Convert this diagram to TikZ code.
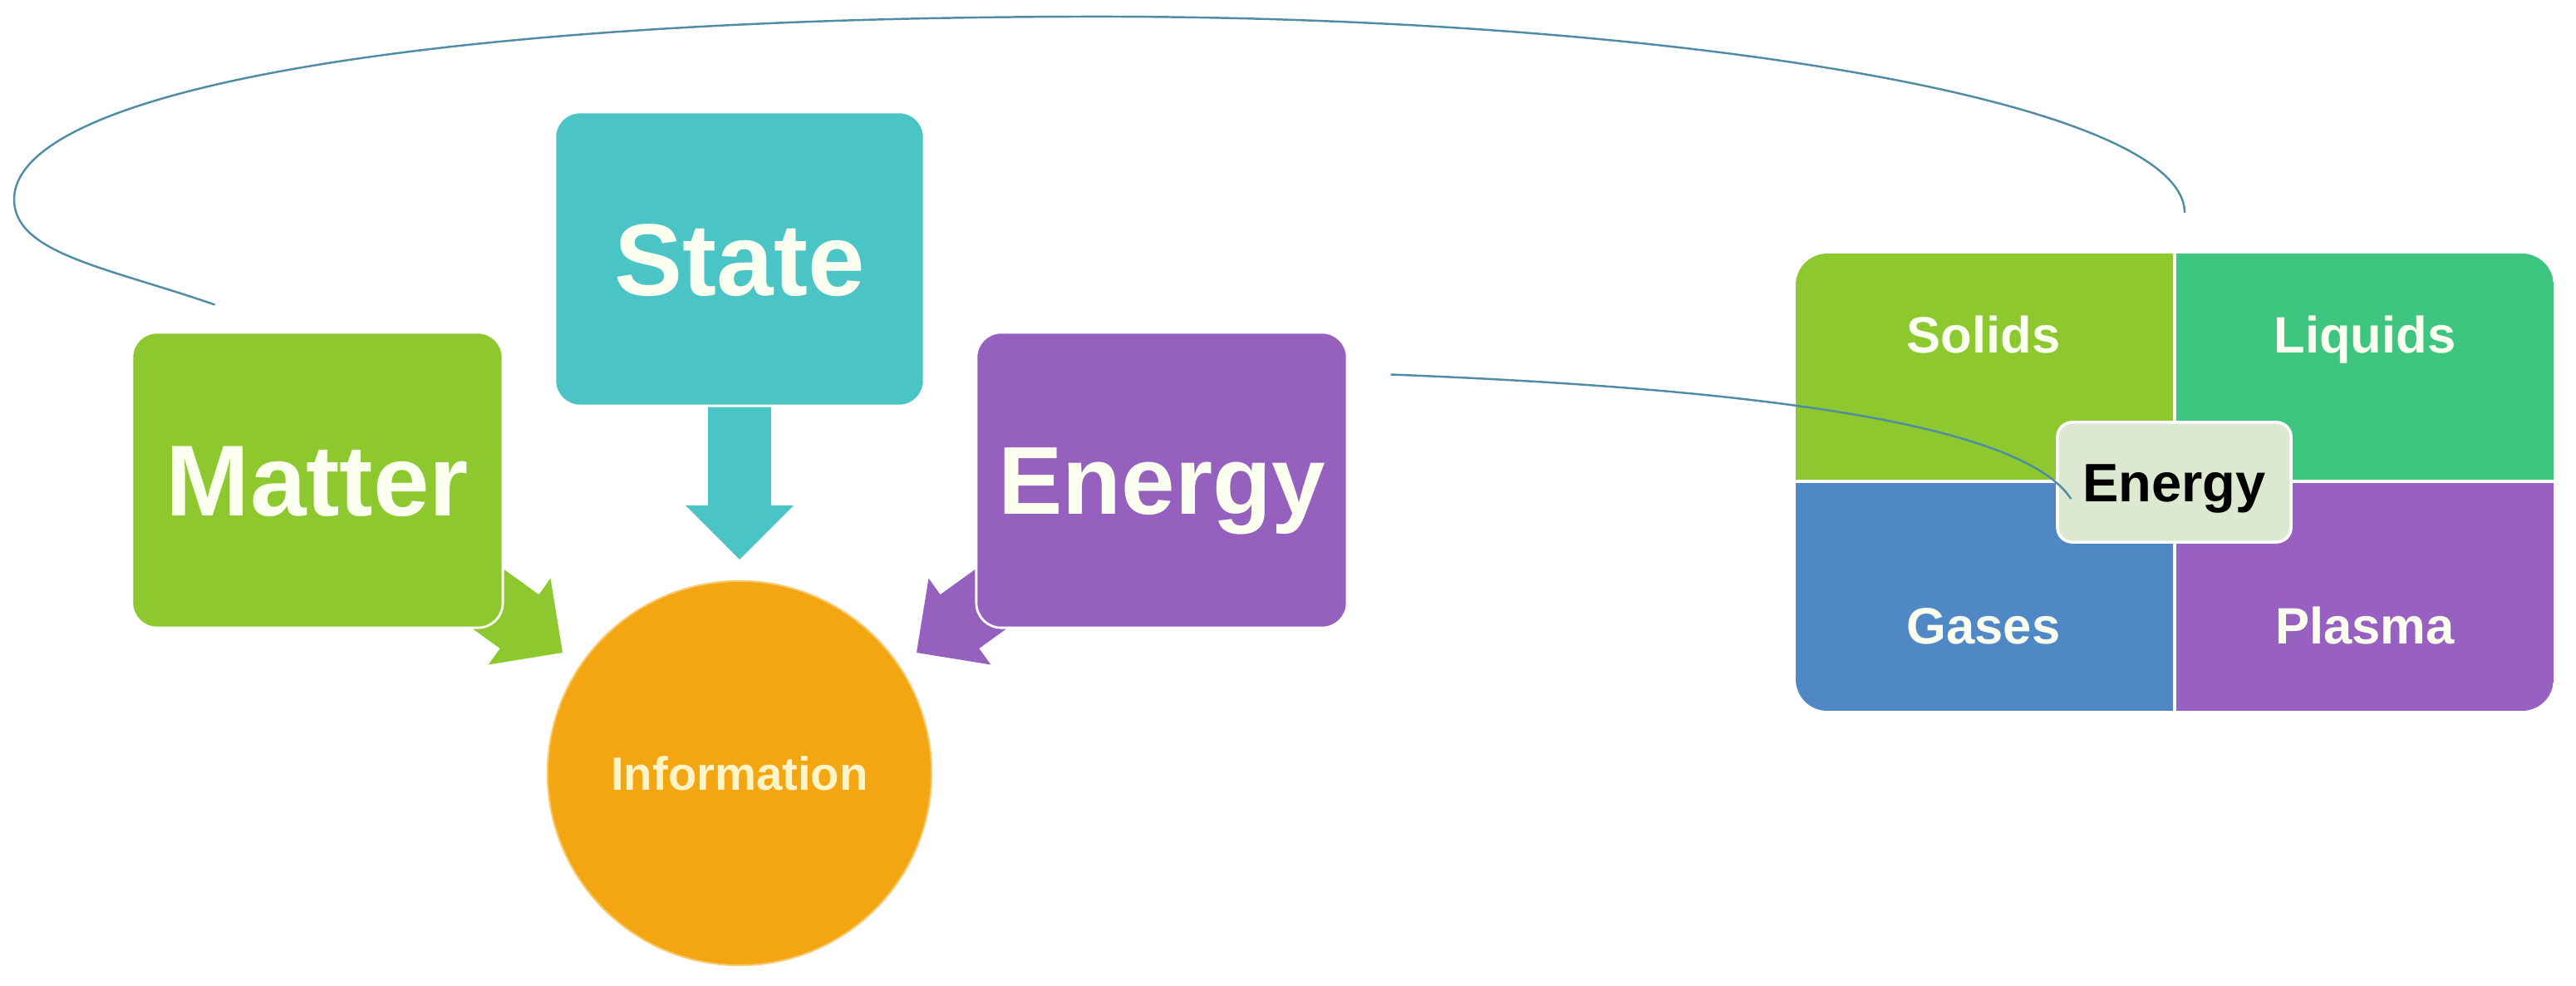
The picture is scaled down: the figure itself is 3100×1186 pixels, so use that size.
\documentclass[tikz,border=0pt]{standalone}
\usepackage{fontspec}
\setmainfont{Liberation Sans}
\usetikzlibrary{calc}
\definecolor{cGreen}{RGB}{140,200,46}
\definecolor{cTeal}{RGB}{75,196,198}
\definecolor{cPurple}{RGB}{150,96,190}
\definecolor{cOrange}{RGB}{243,166,18}
\definecolor{cLiq}{RGB}{62,198,128}
\definecolor{cBlue}{RGB}{80,136,198}
\definecolor{cPlas}{RGB}{152,96,192}
\definecolor{cLabel}{RGB}{221,232,208}
\definecolor{cLine}{RGB}{80,140,165}
\definecolor{cInfoText}{RGB}{255,243,200}
\definecolor{cText}{RGB}{250,255,240}
\begin{document}
\begin{tikzpicture}[x=0.01cm,y=-0.01cm,
  bigbox/.style={rounded corners=8.5pt, draw=white, line width=0.8pt,
    minimum width=4.46cm, minimum height=3.55cm, inner sep=0pt, text=cText},
  cell/.style={inner sep=0pt, minimum width=4.56cm, minimum height=2.75cm},
  celltext/.style={inner sep=0pt, text=cText, font=\fontsize{17.5}{20}\selectfont\bfseries,
    text height=12.5pt, text depth=0pt},
  conn/.style={draw=cLine, line width=0.7pt}]
\useasboundingbox (0,0) rectangle (3100,1186);

% block arrows (behind boxes)
\fill[cGreen] (526.8,627.4) -- (648.5,715.2) -- (662.5,695.7) -- (677,785)
  -- (587.7,799.5) -- (601.7,780.0) -- (480.0,692.2) -- cycle;
\fill[cPurple] (1253.2,627.4) -- (1131.5,715.2) -- (1117.5,695.7) -- (1103,785)
  -- (1192.3,799.5) -- (1178.3,780.0) -- (1300,692.2) -- cycle;
\fill[cTeal] (852,470) -- (852,608) -- (825,608) -- (890,673) -- (955,608)
  -- (928,608) -- (928,470) -- cycle;

% boxes
\node[bigbox, fill=cGreen, font=\fontsize{34.5}{40}\selectfont\bfseries, text height=24.7pt, text depth=0pt]
  (matter) at (382,577.5) {Matter};
\node[bigbox, fill=cTeal, minimum width=4.44cm, minimum height=3.53cm,
  font=\fontsize{35}{40}\selectfont\bfseries, text height=25pt, text depth=0pt]
  (state) at (890,311.5) {State};
\node[bigbox, fill=cPurple, font=\fontsize{33}{40}\selectfont\bfseries, text height=23.6pt, text depth=0pt]
  (energy) at (1398,577.5) {Energy};
\node[circle, fill=cOrange, draw=cOrange!60!white, line width=0.6pt, minimum size=4.62cm, inner sep=0pt,
  text=cInfoText, font=\fontsize{16}{18}\selectfont\bfseries, text height=11.5pt, text depth=0pt]
  (info) at (890,930) {Information};

% panel
\node[inner sep=0pt, minimum width=9.12cm, minimum height=5.5cm] (panel) at (2617,580) {};
\begin{scope}
  \clip[rounded corners=10.8pt] (2161,305) rectangle (3073,855);
  \node[cell, fill=cGreen] (solidsCell) at (2389,442) {};
  \node[cell, fill=cLiq] (liquidsCell) at (2845,442) {};
  \node[cell, fill=cBlue] (gasesCell) at (2389,717) {};
  \node[cell, fill=cPlas] (plasmaCell) at (2845,717) {};
  \draw[white, line width=1pt] (2617,305) -- (2617,855) (2161,579) -- (3073,579);
\end{scope}
\node[celltext] (solids) at (2387,403) {Solids};
\node[celltext] (liquids) at (2846,403) {Liquids};
\node[celltext] (gases) at (2387,753) {Gases};
\node[celltext] (plasma) at (2846,753) {Plasma};
\node[fill=cLabel, draw=white, line width=1pt, rounded corners=5pt, minimum width=2.81cm,
  minimum height=1.44cm, inner sep=0pt, text=black, font=\fontsize{18.5}{20}\selectfont\bfseries,
  text height=13.3pt, text depth=0pt] (elabel) at (2616.5,580) {Energy};

% connectors
\coordinate (loopS) at ($(matter.north west)+(101,-32)$);
\coordinate (loopE) at ($(panel.north)+(12,-48)$);
\draw[conn] (loopS) .. controls (130,322) and (17,305) .. (17,240)
  .. controls (17,110) and (500,22) .. (1300,20)
  .. controls (2000,18) and (2629,120) .. (loopE);
\coordinate (c2S) at ($(energy.north east)+(51,52)$);
\coordinate (c2E) at ($(elabel.west)+(18,20)$);
\draw[conn] (c2S) .. controls +(410,16) and +(-62,-95) .. (c2E);
\end{tikzpicture}
\end{document}
